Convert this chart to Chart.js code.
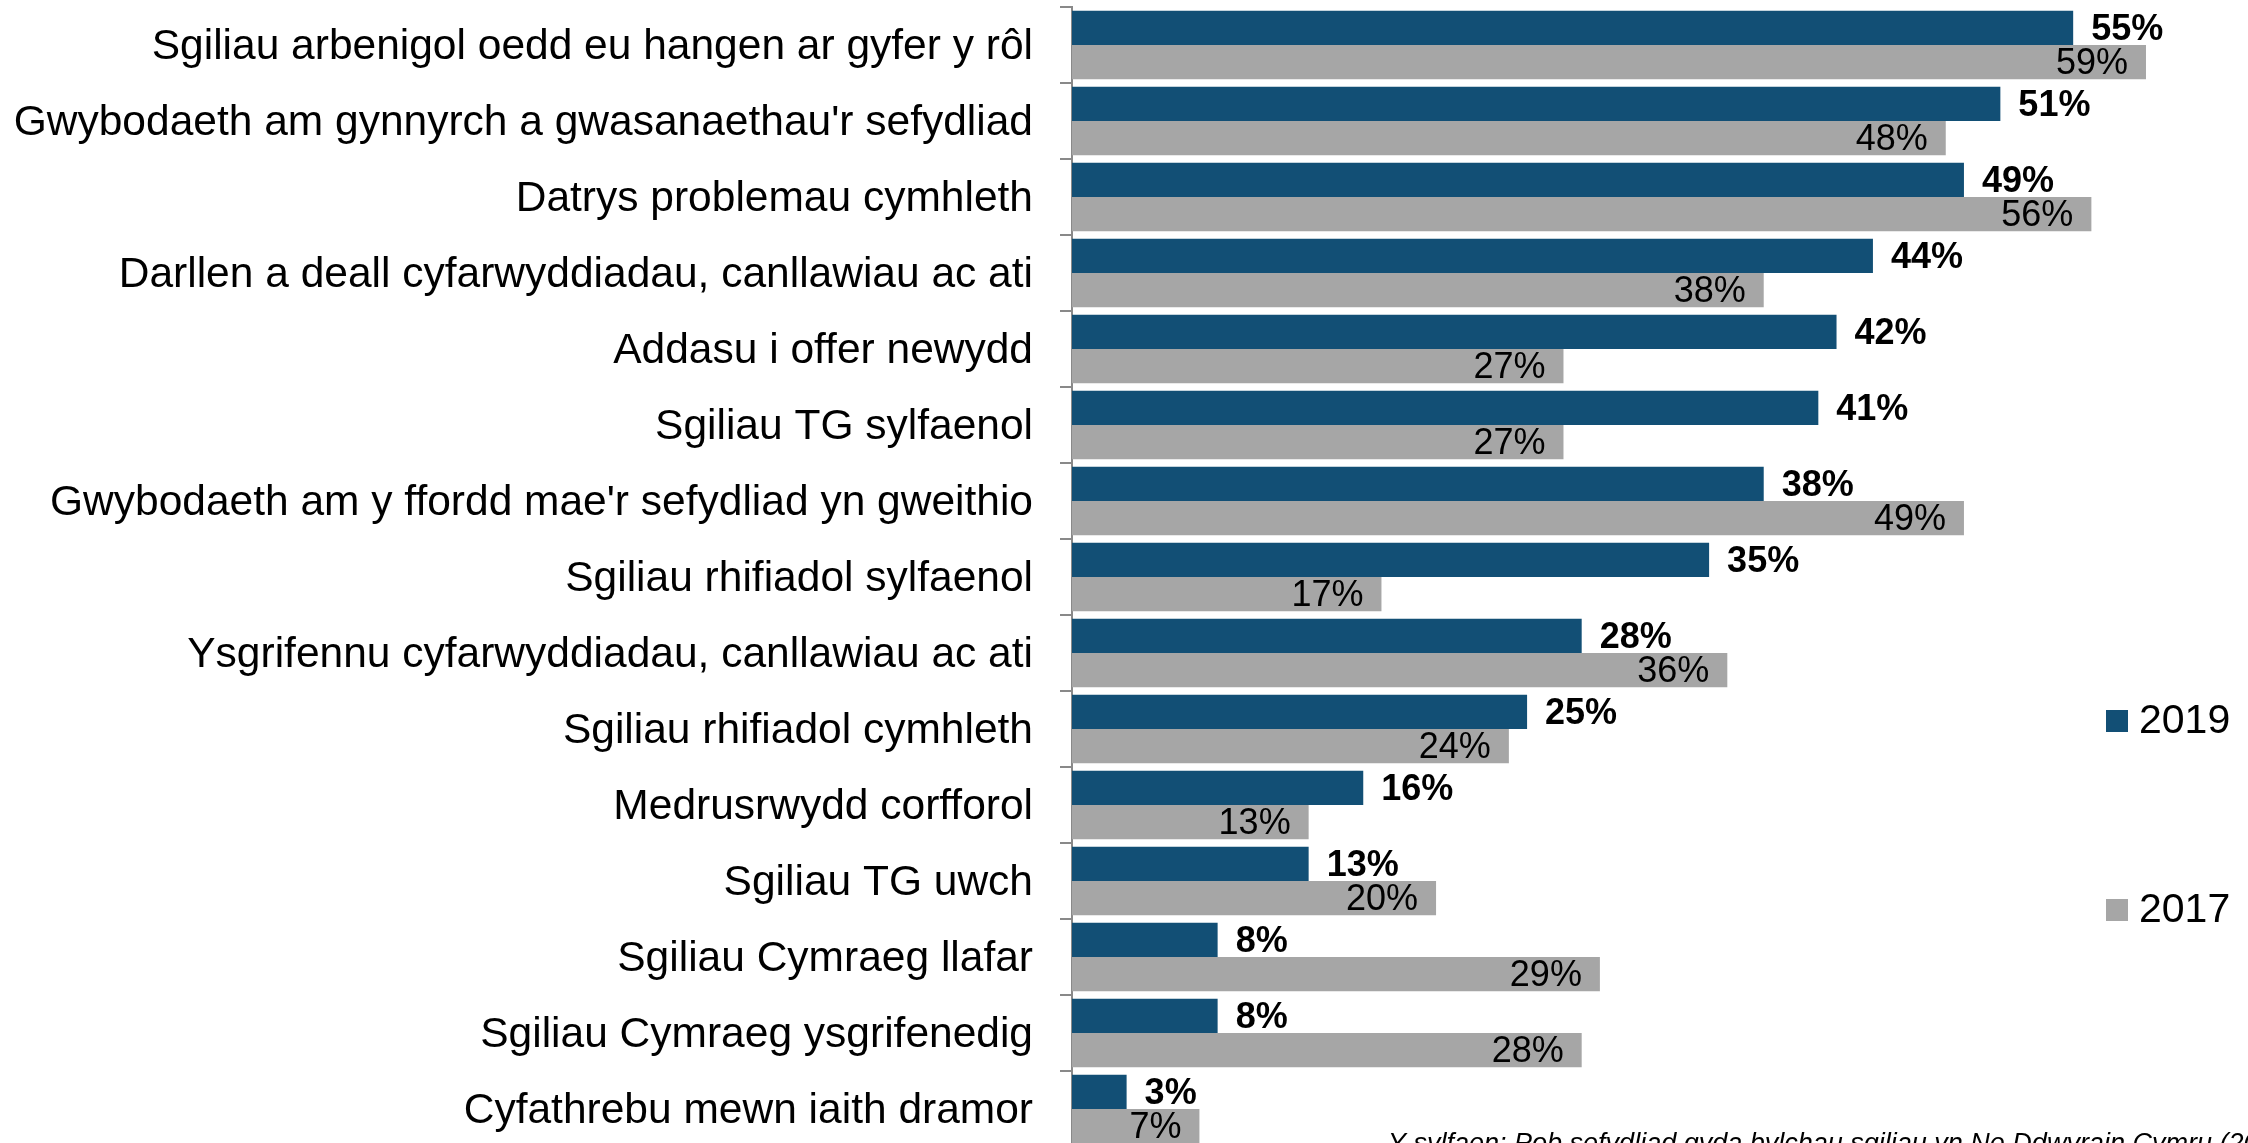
<!DOCTYPE html>
<html>
<head>
<meta charset="utf-8">
<script src="https://cdn.jsdelivr.net/npm/chart.js@4/dist/chart.umd.min.js"></script>
<style>
  html, body { margin: 0; padding: 0; overflow: hidden; background: #fff; }
  #wrap { position: relative; width: 2248px; height: 1160px; }
</style>
</head>
<body>
<div id="wrap"><canvas id="c"></canvas></div>
<script>
const categories = [
  "Sgiliau arbenigol oedd eu hangen ar gyfer y rôl",
  "Gwybodaeth am gynnyrch a gwasanaethau'r sefydliad",
  "Datrys problemau cymhleth",
  "Darllen a deall cyfarwyddiadau, canllawiau ac ati",
  "Addasu i offer newydd",
  "Sgiliau TG sylfaenol",
  "Gwybodaeth am y ffordd mae'r sefydliad yn gweithio",
  "Sgiliau rhifiadol sylfaenol",
  "Ysgrifennu cyfarwyddiadau, canllawiau ac ati",
  "Sgiliau rhifiadol cymhleth",
  "Medrusrwydd corfforol",
  "Sgiliau TG uwch",
  "Sgiliau Cymraeg llafar",
  "Sgiliau Cymraeg ysgrifenedig",
  "Cyfathrebu mewn iaith dramor"
];
const values2019 = [55, 51, 49, 44, 42, 41, 38, 35, 28, 25, 16, 13, 8, 8, 3];
const values2017 = [59, 48, 56, 38, 27, 27, 49, 17, 36, 24, 13, 20, 29, 28, 7];
const seriesNames = ["2019", "2017"];
const sourceText = "Y sylfaen: Pob sefydliad gyda bylchau sgiliau yn Ne Ddwyrain Cymru (2019)";

const FONT = "'Liberation Sans', Arial, sans-serif";
Chart.defaults.font.family = FONT;
Chart.defaults.color = '#000';

const valueLabels = {
  id: 'valueLabels',
  afterDatasetsDraw(chart) {
    const ctx = chart.ctx;
    ctx.save();
    ctx.textBaseline = 'middle';
    ctx.fillStyle = '#000';
    chart.data.datasets.forEach((ds, di) => {
      const meta = chart.getDatasetMeta(di);
      meta.data.forEach((el, i) => {
        const txt = ds.data[i] + '%';
        if (di === 0) {
          ctx.font = "bold 36px " + FONT;
          ctx.textAlign = 'left';
          ctx.fillText(txt, el.x + 18, el.y + 2);
        } else {
          ctx.font = "36px " + FONT;
          ctx.textAlign = 'right';
          ctx.fillText(txt, el.x - 18, el.y + 2);
        }
      });
    });
    ctx.restore();
  }
};

const customLegend = {
  id: 'customLegend',
  afterDraw(chart) {
    const ctx = chart.ctx;
    ctx.save();
    const ys = [721, 910];
    chart.data.datasets.forEach((ds, di) => {
      ctx.fillStyle = ds.backgroundColor;
      ctx.fillRect(2106, ys[di] - 11, 22, 22);
      ctx.fillStyle = '#000';
      ctx.font = "41px " + FONT;
      ctx.textAlign = 'left';
      ctx.textBaseline = 'middle';
      ctx.fillText(ds.label, 2139, ys[di] + 1);
    });
    ctx.font = "italic 27px " + FONT;
    ctx.textBaseline = 'alphabetic';
    ctx.fillText(sourceText, 1388, 1152);
    ctx.restore();
  }
};

new Chart(document.getElementById('c'), {
  type: 'bar',
  data: {
    labels: categories,
    datasets: [
      { label: seriesNames[0], data: values2019, backgroundColor: '#124F75', borderWidth: 0 },
      { label: seriesNames[1], data: values2017, backgroundColor: '#A6A6A6', borderWidth: 0 }
    ]
  },
  options: {
    indexAxis: 'y',
    responsive: true,
    maintainAspectRatio: false,
    animation: false,
    events: [],
    layout: { padding: { top: 7, right: 11, bottom: 13, left: 0 } },
    datasets: { bar: { categoryPercentage: 0.9, barPercentage: 1.0 } },
    plugins: { legend: { display: false }, tooltip: { enabled: false } },
    scales: {
      x: { display: false, min: 0, max: 64 },
      y: {
        ticks: { font: { size: 42.5 }, color: '#000', padding: 27, labelOffset: 2 },
        grid: { drawOnChartArea: false, drawTicks: true, tickLength: 12, color: '#898989', lineWidth: 2 },
        border: { color: '#898989', width: 2 },
        afterFit(scale) {
          scale.width = 1072;
          scale.paddingTop = 0;
          scale.paddingBottom = 0;
        }
      }
    }
  },
  plugins: [valueLabels, customLegend]
});
</script>
</body>
</html>
